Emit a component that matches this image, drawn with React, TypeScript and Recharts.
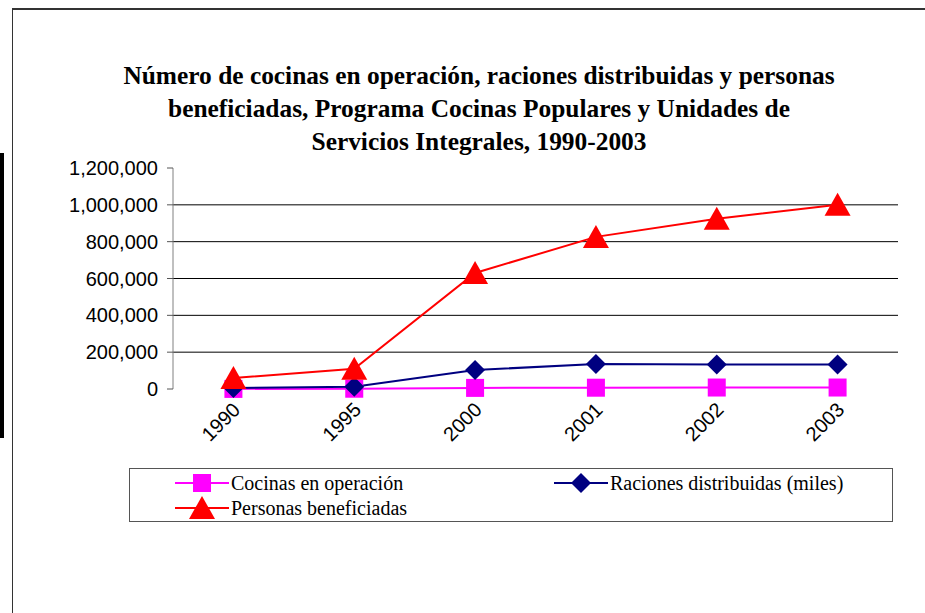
import React from "react";
import {
  LineChart,
  Line,
  XAxis,
  YAxis,
  ReferenceLine,
  Legend,
} from "recharts";

const years = ["1990", "1995", "2000", "2001", "2002", "2003"];
const cocinas = [500, 1500, 6000, 7000, 8000, 8000];
const raciones = [5000, 12000, 103000, 136000, 133000, 133000];
const personas = [60000, 110000, 630000, 826000, 924000, 1000000];

const yTicks = [0, 200000, 400000, 600000, 800000, 1000000, 1200000];
const gridValues = [200000, 400000, 600000, 800000, 1000000];
const edgeTicks = [0, 1, 2, 3, 4, 5, 6];

const titleLines = [
  "Número de cocinas en operación, raciones distribuidas y personas",
  "beneficiadas, Programa Cocinas Populares y Unidades de",
  "Servicios Integrales, 1990-2003",
];

const data = years.map((year, i) => ({
  year,
  cocinas: cocinas[i],
  raciones: raciones[i],
  personas: personas[i],
}));

const PINK = "#FF00FF";
const NAVY = "#000080";
const RED = "#FF0000";
const SERIF = "'Liberation Serif', 'Times New Roman', serif";
const SANS = "'Liberation Sans', Arial, sans-serif";

const Square = (props: any) => {
  const { cx, cy } = props;
  return <rect key={`sq-${cx}`} x={cx - 9} y={cy - 9} width={18} height={18} fill={PINK} />;
};

const Diamond = (props: any) => {
  const { cx, cy } = props;
  return (
    <polygon
      key={`dm-${cx}`}
      points={`${cx},${cy - 10} ${cx + 10},${cy} ${cx},${cy + 10} ${cx - 10},${cy}`}
      fill={NAVY}
    />
  );
};

const Triangle = (props: any) => {
  const { cx, cy } = props;
  return (
    <polygon
      key={`tr-${cx}`}
      points={`${cx},${cy - 12} ${cx + 13},${cy + 11} ${cx - 13},${cy + 11}`}
      fill={RED}
    />
  );
};

const YearTick = (props: any) => {
  const { x, y, payload } = props;
  return (
    <text
      x={x + 8}
      y={y + 14}
      transform={`rotate(-45, ${x + 8}, ${y + 14})`}
      textAnchor="end"
      fontFamily={SANS}
      fontSize={20}
      fill="#000"
    >
      {payload.value}
    </text>
  );
};

const legendItems = [
  { label: "Cocinas en operación", color: PINK, Shape: Square },
  { label: "Raciones distribuidas (miles)", color: NAVY, Shape: Diamond },
  { label: "Personas beneficiadas", color: RED, Shape: Triangle },
];

const LegendBox = () => (
  <div
    style={{
      border: "1px solid #555",
      boxSizing: "border-box",
      width: 764,
      height: 54,
      position: "relative",
      fontFamily: SERIF,
      fontSize: 20,
      background: "#fff",
    }}
  >
    {legendItems.map((item, i) => (
      <div
        key={item.label}
        style={{
          position: "absolute",
          left: i === 1 ? 424 : 45,
          top: i === 2 ? 27 : 2,
          display: "flex",
          alignItems: "center",
          whiteSpace: "nowrap",
          height: 24,
        }}
      >
        <svg width={54} height={24}>
          <line x1={0} y1={12} x2={54} y2={12} stroke={item.color} strokeWidth={2} />
          <item.Shape cx={27} cy={12} />
        </svg>
        <span style={{ marginLeft: 2 }}>{item.label}</span>
      </div>
    ))}
  </div>
);

export default function App() {
  return (
    <div
      style={{
        position: "absolute",
        left: 0,
        top: 0,
        width: 925,
        height: 613,
        background: "#fff",
        overflow: "hidden",
      }}
    >
      <div
        style={{
          position: "absolute",
          left: 12,
          top: 8,
          width: 930,
          height: 620,
          borderLeft: "1px solid #333",
          borderTop: "2px solid #333",
        }}
      />
      <div
        style={{
          position: "absolute",
          left: 0,
          top: 153,
          width: 4,
          height: 285,
          background: "#000",
        }}
      />
      <div
        style={{
          position: "absolute",
          left: 79,
          top: 59,
          width: 800,
          textAlign: "center",
          fontFamily: SERIF,
          fontWeight: "bold",
          fontSize: 25.4,
          lineHeight: "33px",
          whiteSpace: "nowrap",
        }}
      >
        {titleLines.map((t) => (
          <div key={t}>{t}</div>
        ))}
      </div>
      <div style={{ position: "absolute", left: 0, top: 0 }}>
        <LineChart
          width={925}
          height={613}
          data={data}
          margin={{ top: 168, right: 27, left: 0, bottom: 164 }}
        >
          <XAxis
            type="number"
            domain={[0, 6]}
            ticks={edgeTicks}
            allowDataOverflow
            height={0}
            tick={false}
            tickSize={6}
            stroke="#000"
            tickLine={{ stroke: "#666" }}
          />
          <XAxis
            xAxisId="cat"
            dataKey="year"
            type="category"
            scale="band"
            height={60}
            axisLine={false}
            tickLine={false}
            tick={<YearTick />}
            interval={0}
          />
          <YAxis
            domain={[0, 1200000]}
            ticks={yTicks}
            width={173}
            tickSize={6}
            tickMargin={9}
            stroke="#808080"
            tickLine={{ stroke: "#555" }}
            tick={{ fill: "#000", fontSize: 20, fontFamily: SANS }}
            tickFormatter={(v: number) => v.toLocaleString("en-US")}
          />
          {gridValues.map((v) => (
            <ReferenceLine key={v} y={v} stroke="#000" strokeWidth={1} />
          ))}
          <Line
            xAxisId="cat"
            dataKey="cocinas"
            stroke={PINK}
            strokeWidth={2}
            dot={<Square />}
            isAnimationActive={false}
          />
          <Line
            xAxisId="cat"
            dataKey="raciones"
            stroke={NAVY}
            strokeWidth={2}
            dot={<Diamond />}
            isAnimationActive={false}
          />
          <Line
            xAxisId="cat"
            dataKey="personas"
            stroke={RED}
            strokeWidth={2}
            dot={<Triangle />}
            isAnimationActive={false}
          />
          <Legend
            layout="horizontal"
            verticalAlign="middle"
            align="center"
            content={<LegendBox />}
            wrapperStyle={{ left: 129, top: 468, width: 764, height: 54 }}
          />
        </LineChart>
      </div>
    </div>
  );
}
